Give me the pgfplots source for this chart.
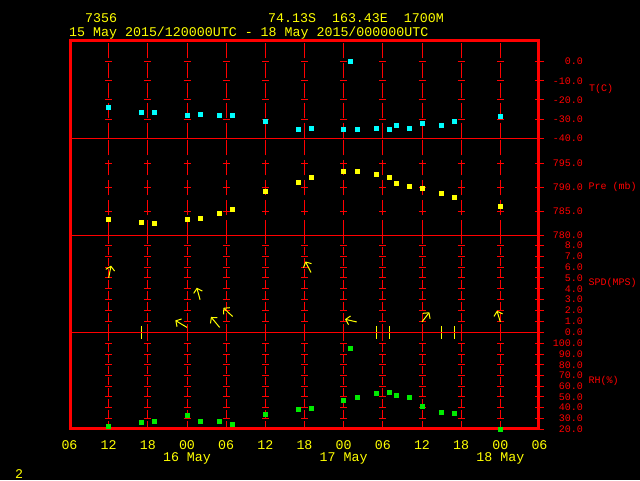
\documentclass[border=0pt]{standalone}
\usepackage{fontspec}
\setmainfont{Liberation Mono}
\usepackage{pgfplots}
\pgfplotsset{compat=1.18}
\usetikzlibrary{arrows.meta}

\definecolor{gred}{RGB}{255,0,0}
\definecolor{gyel}{RGB}{255,255,0}
\definecolor{gcyan}{RGB}{0,255,255}
\definecolor{ggreen}{RGB}{0,235,0}

\newcommand\bigfont{\fontsize{13.3pt}{14pt}\selectfont}
\newcommand\smallfont{\fontsize{10pt}{10pt}\selectfont}

\pgfplotsset{
  panel/.style={
    scale only axis, width=470pt, anchor=south west,
    xmin=6, xmax=78, xtick={12,18,...,72}, xticklabels={},
    xtick style={draw=none},
    xmajorgrids,
    major grid style={gred, line width=1pt, dash pattern=on 15pt off 5pt},
    axis line style={gred, line width=1pt},
    ytick pos=right, yticklabel pos=right,
    tick align=center, major tick length=9pt,
    ytick style={gred, line width=1pt},
    yticklabel style={text=gred, font=\smallfont, anchor=east, inner sep=0pt, xshift=39pt},
    clip=false,
  },
}

% little red crosses on the vertical grid lines
\newcommand\crosses[1]{%
  \foreach \t in {12,18,...,72}{
    \foreach \v in {#1}{
      \edef\tmp{\noexpand\draw[gred, line width=1pt] ([xshift=-3.5pt]axis cs:\t,\v) -- ([xshift=3.5pt]axis cs:\t,\v);}
      \tmp
    }
  }
}

\begin{document}
\begin{tikzpicture}
\fill[black] (0pt,0pt) rectangle (640pt,480pt);
\draw[gred, line width=3pt] (70.5pt,51.8pt) rectangle (538.3pt,439.5pt);

% titles
\node[anchor=base west, inner sep=0pt, font=\bigfont, text=gyel] at (85pt,457pt) {7356};
\node[anchor=base west, inner sep=0pt, font=\bigfont, text=gyel] at (268pt,457pt) {74.13S\ \ 163.43E\ \ 1700M};
\node[anchor=base west, inner sep=0pt, font=\bigfont, text=gyel] at (69pt,443pt) {15 May 2015/120000UTC - 18 May 2015/000000UTC};
\node[anchor=base west, inner sep=0pt, font=\bigfont, text=gyel] at (15pt,2pt) {2};

% temperature
\begin{axis}[panel, at={(69.5pt,341.7pt)}, height=97.3pt,
  ymin=-40, ymax=10.8,
  ytick={-40,-30,-20,-10,0}, yticklabels={-40.0,-30.0,-20.0,-10.0,0.0}]
\crosses{-30,-20,-10,0}
\node[anchor=west, inner sep=0pt, font=\smallfont, text=gred] at ([xshift=49.5pt]axis cs:78,-14.4) {T(C)};
\addplot[only marks, mark=square*, mark size=2pt, color=gcyan] table {
t T
12 -24.0
17 -26.6
19 -26.6
24 -27.8
26 -27.2
29 -27.7
31 -27.7
36 -31.3
41 -35.5
43 -34.5
48 -35.0
49 0.0
50 -35.5
53 -34.5
55 -35.0
56 -33.4
58 -34.5
60 -31.9
63 -33.4
65 -31.3
72 -28.7
};
\end{axis}

% pressure
\begin{axis}[panel, at={(69.5pt,244.7pt)}, height=97pt,
  ymin=780, ymax=800.2,
  ytick={780,785,790,795}, yticklabels={780.0,785.0,790.0,795.0}]
\crosses{785,790,795}
\node[anchor=west, inner sep=0pt, font=\smallfont, text=gred] at ([xshift=49pt]axis cs:78,790) {Pre (mb)};
\addplot[only marks, mark=square*, mark size=2pt, color=gyel] table {
t P
12 783.25
17 782.8
19 782.6
24 783.25
26 783.5
29 784.5
31 785.5
36 789.1
41 791.0
43 792.0
48 793.25
50 793.25
53 792.8
55 792.0
56 790.75
58 790.3
60 789.9
63 788.7
65 788.0
72 786.0
};
\end{axis}

% wind speed and direction
\begin{axis}[panel, at={(69.5pt,147.7pt)}, height=97pt,
  ymin=0, ymax=8.92,
  major grid style={gred, line width=1pt, dash pattern=on 8pt off 3pt},
  ytick={0,1,...,8}, yticklabels={0.0,1.0,2.0,3.0,4.0,5.0,6.0,7.0,8.0}]
\crosses{1,2,3,4,5,6,7,8}
\node[anchor=west, inner sep=0pt, font=\smallfont, text=gred] at ([xshift=49pt]axis cs:78,4.53) {SPD(MPS)};
\addplot[gyel, line width=1pt, -{Straight Barb[length=4pt,width=9pt]},
  quiver={u=\thisrow{u}, v=\thisrow{v}}] table[x=t, y=s] {
t s u v
12 5.0 0.37 1.13
24 0.45 -1.79 0.64
26 3.0 -0.5 1.1
29 0.45 -1.33 0.96
31 1.45 -1.44 0.8
43 5.5 -0.87 1.01
50 0.95 -1.79 0.25
60 0.95 1.12 0.89
72 0.95 -0.52 1.04
};
\addplot[only marks, mark=|, mark size=6.5pt, color=gyel, mark options={line width=1pt}]
  coordinates {(17,0) (53,0) (55,0) (63,0) (65,0)};
\end{axis}

% relative humidity
\begin{axis}[panel, at={(69.5pt,51pt)}, height=96.7pt,
  ymin=20, ymax=110.3,
  major grid style={gred, line width=1pt, dash pattern=on 8pt off 3pt},
  ytick={20,30,...,100}, yticklabels={20.0,30.0,40.0,50.0,60.0,70.0,80.0,90.0,100.0},
  xtick={6,12,...,78}, xticklabels={06,12,18,00,06,12,18,00,06,12,18,00,06},
  xticklabel style={text=gyel, font=\bigfont, anchor=base, inner sep=0pt, yshift=-15.5pt}]
\crosses{30,40,50,60,70,80,90,100}
\node[anchor=west, inner sep=0pt, font=\smallfont, text=gred] at ([xshift=49pt]axis cs:78,65.1) {RH(\%)};
\node[anchor=base, inner sep=0pt, font=\bigfont, text=gyel] at ([yshift=-32pt]axis cs:24,20) {16 May};
\node[anchor=base, inner sep=0pt, font=\bigfont, text=gyel] at ([yshift=-32pt]axis cs:48,20) {17 May};
\node[anchor=base, inner sep=0pt, font=\bigfont, text=gyel] at ([yshift=-32pt]axis cs:72,20) {18 May};
\addplot[only marks, mark=square*, mark size=2pt, color=ggreen] table {
t RH
12 22.4
17 26.1
19 27.1
24 32.7
26 27.1
29 27.1
31 24.3
36 33.6
41 38.2
43 39.2
48 46.6
49 95.9
50 49.4
53 53.1
55 54.0
56 51.3
58 49.4
60 41.0
63 35.4
65 34.5
72 19.6
};
\end{axis}

\pgfresetboundingbox
\useasboundingbox (0pt,0pt) rectangle (640pt,480pt);
\end{tikzpicture}
\end{document}
